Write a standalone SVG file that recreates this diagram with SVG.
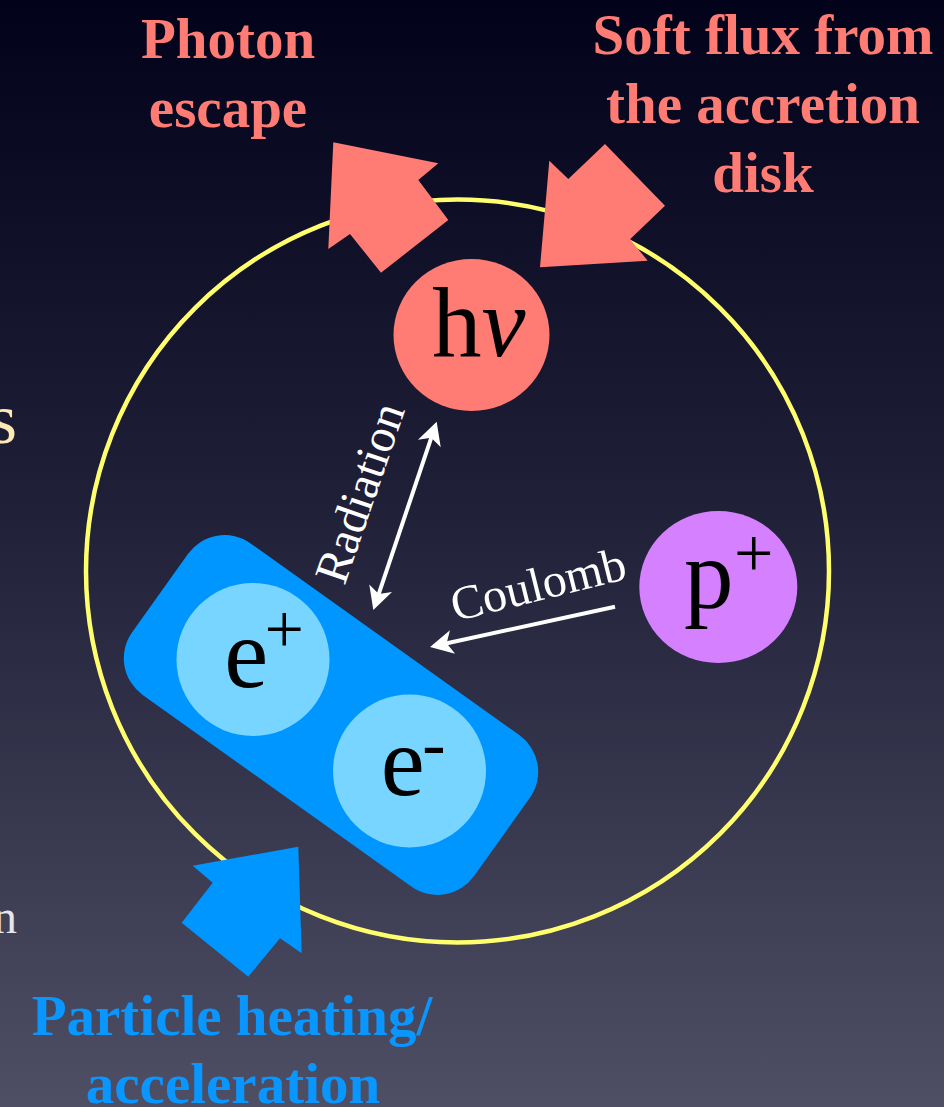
<svg xmlns="http://www.w3.org/2000/svg" width="944" height="1107" viewBox="0 0 944 1107">
  <defs>
    <linearGradient id="bg" x1="0" y1="0" x2="0" y2="1">
      <stop offset="0" stop-color="#02021a"/>
      <stop offset="0.45" stop-color="#1f1f38"/>
      <stop offset="1" stop-color="#4e4e64"/>
    </linearGradient>
    <marker id="head" viewBox="-10 -13 27 26" markerWidth="27" markerHeight="26" refX="0" refY="0" markerUnits="userSpaceOnUse" orient="auto-start-reverse">
      <path d="M15,0 L-8,-12 L-2,0 L-8,12 Z" fill="#ffffff"/>
    </marker>
    <style>
      .title { font-family: "Liberation Serif", "Times New Roman", serif; font-weight: bold; font-size: 57px; text-anchor: middle; }
      .coral { fill: #ff7c74; }
      .blue { fill: #0a96ff; }
      .sym { font-family: "Liberation Serif", "Times New Roman", serif; font-size: 99px; fill: #000000; }
      .sup { font-family: "Liberation Serif", "Times New Roman", serif; font-size: 70px; fill: #000000; }
      .lbl { font-family: "Liberation Serif", "Times New Roman", serif; font-size: 48px; fill: #ffffff; text-anchor: middle; }
      .conn { stroke: #ffffff; stroke-width: 4; fill: none; }
      .side { font-family: "Liberation Serif", "Times New Roman", serif; text-anchor: end; }
    </style>
  </defs>

  <rect x="0" y="0" width="944" height="1107" fill="url(#bg)"/>

  <g id="cut-off-text">
    <text class="side" x="17" y="443" font-size="72" fill="#fde9b4">s</text>
    <text class="side" x="17" y="933" font-size="48" fill="#e6e6ea">n</text>
  </g>

  <g id="region-boundary">
    <circle cx="457.5" cy="571" r="371.5" fill="none" stroke="#ffff6e" stroke-width="4.5"/>
  </g>

  <g id="photon-escape">
    <polygon class="coral" points="333.3,142.3 438.3,163.3 418.3,180 448.3,220 381,272.7 350,234 328.3,249"/>
    <text class="title coral" x="228" y="58">Photon</text>
    <text class="title coral" x="228" y="127">escape</text>
  </g>

  <g id="soft-flux">
    <polygon class="coral" points="605,144 665,205.7 630,239.3 647.7,260.7 540,267.3 549.3,160.7 568.3,179"/>
    <text class="title coral" x="763" y="54">Soft flux from</text>
    <text class="title coral" x="763" y="123">the accretion</text>
    <text class="title coral" x="763" y="192">disk</text>
  </g>

  <g id="particle-heating">
    <polygon fill="#0096ff" points="298.3,846.7 301.7,953.3 280,938.3 248.3,976.7 181.7,922.7 212.7,882.7 192.7,865.7"/>
    <text class="title blue" x="232" y="1035">Particle heating/</text>
    <text class="title blue" x="233" y="1103">acceleration</text>
  </g>

  <g id="photon">
    <ellipse cx="471.5" cy="335" rx="78" ry="76" fill="#ff7c74"/>
    <text class="sym" x="432" y="356">h<tspan font-style="italic">ν</tspan></text>
  </g>

  <g id="proton">
    <ellipse cx="718.3" cy="587" rx="79" ry="76" fill="#d580ff"/>
    <text class="sym" x="684" y="607.6">p</text>
    <text class="sup" x="734" y="577">+</text>
  </g>

  <g id="pair-plasma">
    <rect x="-210" y="-93" width="420" height="186" rx="45" ry="45" fill="#0096ff" transform="translate(331,715) rotate(35.5)"/>
    <g id="positron">
      <circle cx="253" cy="659.5" r="76.5" fill="#77d5ff"/>
      <text class="sym" x="224.2" y="686.7">e</text>
      <text class="sup" x="264.6" y="653">+</text>
    </g>
    <g id="electron">
      <circle cx="409.5" cy="771" r="76.5" fill="#77d5ff"/>
      <text class="sym" x="380.8" y="795">e</text>
      <text class="sup" x="422.3" y="767" font-size="68">-</text>
    </g>
  </g>

  <g id="connectors">
    <g id="radiation">
      <line class="conn" x1="378.1" y1="595.8" x2="431.9" y2="435.9" marker-start="url(#head)" marker-end="url(#head)"/>
      <text class="lbl" transform="translate(375,498) rotate(-71)">Radiation</text>
    </g>
    <g id="coulomb">
      <line class="conn" x1="615" y1="606.7" x2="444.7" y2="643.8" marker-end="url(#head)"/>
      <text class="lbl" transform="translate(542,600) rotate(-14)">Coulomb</text>
    </g>
  </g>
</svg>
